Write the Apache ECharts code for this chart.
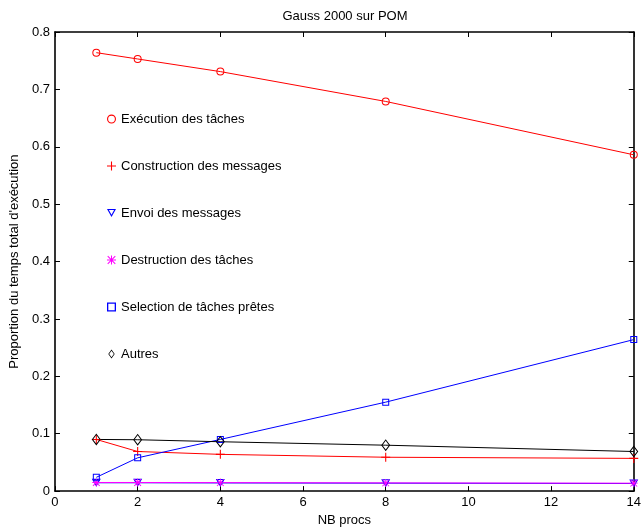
<!DOCTYPE html>
<html>
<head>
<meta charset="utf-8">
<script src="https://cdn.jsdelivr.net/npm/echarts@6/dist/echarts.min.js"></script>
<style>html,body{margin:0;padding:0;background:#fff}#c{width:644px;height:532px}</style>
</head>
<body>
<div id="c"></div>
<script>
const procs = [1, 2, 4, 8, 14];
const execution = [0.764, 0.753, 0.731, 0.679, 0.586];
const construction = [0.090, 0.069, 0.064, 0.059, 0.057];
const envoi = [0.0145, 0.0145, 0.0142, 0.0138, 0.0132];
const destruction = [0.015, 0.015, 0.0148, 0.0143, 0.0138];
const selection = [0.024, 0.058, 0.090, 0.155, 0.264];
const autres = [0.090, 0.0895, 0.086, 0.080, 0.069];
const names = ['Exécution des tâches', 'Construction des messages', 'Envoi des messages',
  'Destruction des tâches', 'Selection de tâches prêtes', 'Autres'];
const xTicks = [0, 2, 4, 6, 8, 10, 12, 14];
const yTicks = [0, 0.1, 0.2, 0.3, 0.4, 0.5, 0.6, 0.7, 0.8];

const FONT = 'Liberation Sans, Arial, Helvetica, sans-serif';
const FS = 13;
const circlePath = 'path://M0,5A5,5 0 1,0 10,5A5,5 0 1,0 0,5Z M1.25,5A3.75,3.75 0 1,1 8.75,5A3.75,3.75 0 1,1 1.25,5Z';
const plusPath = 'path://M0,4.4H10V5.6H0Z M4.4,0H5.6V10H4.4Z';
const triPath = 'path://M0,0L10,0L5,9Z M2.125,1.25L5,6.42L7.875,1.25Z';
const starPath = 'path://M0,4.45H10V5.55H0Z M4.45,0H5.55V10H4.45Z M1.2,0.4L9.6,8.8L8.8,9.6L0.4,1.2Z M8.8,0.4L9.6,1.2L1.2,9.6L0.4,8.8Z';
const rectPath = 'path://M0,0H10V10H0Z M1.45,1.45V8.55H8.55V1.45Z';
const diamondPath = 'path://M5,0L10,7L5,14L0,7Z M5,1.9L1.36,7L5,12.1L8.64,7Z';

function pairs(arr) { return procs.map((p, i) => [p, arr[i]]); }

const defs = [
  {data: execution, color: '#ff0000', symbol: circlePath, size: 8},
  {data: construction, color: '#ff0000', symbol: plusPath, size: 9},
  {data: envoi, color: '#0000ff', symbol: triPath, size: [9, 8]},
  {data: destruction, color: '#ff00ff', symbol: starPath, size: 8},
  {data: selection, color: '#0000ff', symbol: rectPath, size: 7},
  {data: autres, color: '#000000', symbol: diamondPath, size: [9, 12]}
];

const series = defs.map((d, i) => ({
  name: names[i],
  type: 'line',
  data: pairs(d.data),
  symbol: d.symbol,
  symbolSize: d.size,
  symbolKeepAspect: false,
  lineStyle: {color: d.color, width: 1},
  itemStyle: {color: d.color, borderWidth: 0},
  animation: false,
  z: 3
}));

const axisCommon = {
  axisLine: {show: true, onZero: false, lineStyle: {color: '#000', width: 1.6}},
  axisTick: {show: true, inside: true, length: 5, lineStyle: {color: '#000', width: 1}},
  splitLine: {show: false}
};

const chart = echarts.init(document.getElementById('c'), null, {renderer: 'canvas'});
chart.setOption({
  backgroundColor: '#fff',
  animation: false,
  textStyle: {fontFamily: FONT},
  title: {
    text: 'Gauss 2000 sur POM',
    left: 340, top: 5, textAlign: 'center',
    textStyle: {fontFamily: FONT, fontSize: FS, fontWeight: 'normal', color: '#000'}
  },
  grid: {left: 49, right: 4, top: 32, bottom: 33, containLabel: false},
  legend: {
    orient: 'vertical', left: 102, top: 107,
    itemWidth: 9, itemHeight: 9, itemGap: 33,
    textStyle: {fontFamily: FONT, fontSize: FS, color: '#000', lineHeight: 14},
    data: defs.map((d, i) => ({name: names[i], icon: d.symbol, itemStyle: {color: d.color, borderWidth: 0}})),
    selectedMode: false
  },
  xAxis: [
    Object.assign({
      type: 'value', min: xTicks[0], max: xTicks[xTicks.length - 1], interval: xTicks[1] - xTicks[0],
      position: 'bottom',
      name: 'NB procs', nameLocation: 'middle', nameGap: 22,
      nameTextStyle: {fontFamily: FONT, fontSize: FS, color: '#000'},
      axisLabel: {fontFamily: FONT, fontSize: FS, color: '#000', margin: 5}
    }, axisCommon),
    Object.assign({
      type: 'value', min: xTicks[0], max: xTicks[xTicks.length - 1], interval: xTicks[1] - xTicks[0],
      position: 'top', axisLabel: {show: false}
    }, axisCommon)
  ],
  yAxis: [
    Object.assign({
      type: 'value', min: yTicks[0], max: yTicks[yTicks.length - 1], interval: 0.1,
      position: 'left',
      name: "Proportion du temps total d'exécution", nameLocation: 'middle', nameGap: 27, nameRotate: 90,
      nameTextStyle: {fontFamily: FONT, fontSize: FS, color: '#000'},
      axisLabel: {fontFamily: FONT, fontSize: FS, color: '#000', margin: 5,
        formatter: v => String(Math.round(v * 10) / 10)}
    }, axisCommon),
    Object.assign({
      type: 'value', min: yTicks[0], max: yTicks[yTicks.length - 1], interval: 0.1,
      position: 'right', axisLabel: {show: false}
    }, axisCommon)
  ],
  series: series
});
</script>
</body>
</html>
